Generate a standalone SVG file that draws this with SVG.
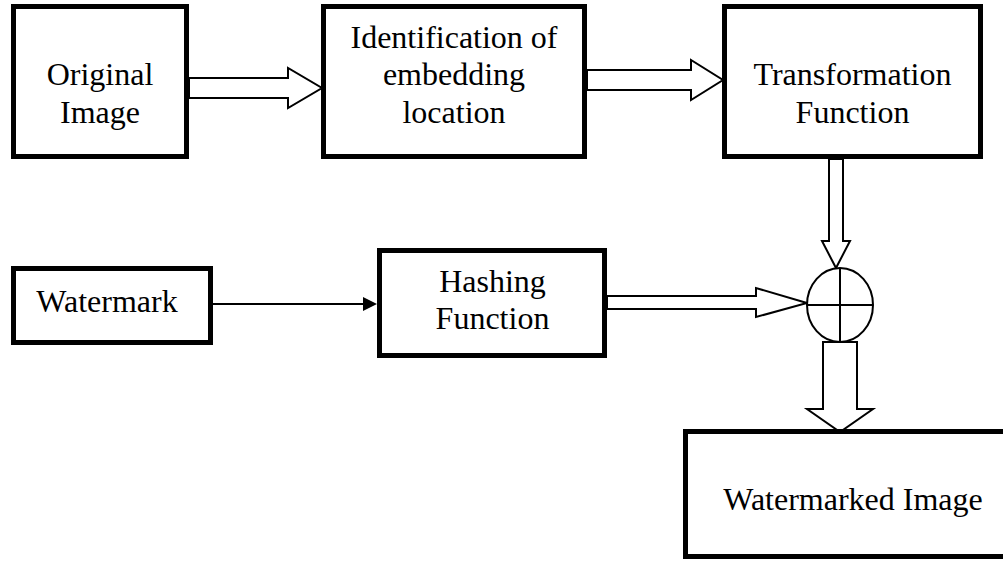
<svg xmlns="http://www.w3.org/2000/svg" width="1003" height="563" viewBox="0 0 1003 563">
<style>
.box{fill:#fff;stroke:#000;stroke-width:5}
.blk{fill:#fff;stroke:#000;stroke-width:2;stroke-linejoin:miter}
.lbl{font-family:"Liberation Serif","Times New Roman",serif;font-size:32px;fill:#000;text-anchor:middle}
</style>
<rect width="1003" height="563" fill="#fff"/>
<g id="connectors">
<polygon class="blk" points="189,78 288,78 288,68 322,88 288,108 288,98 189,98"/>
<polygon class="blk" points="587,70 691,70 691,60 723,80 691,100 691,90 587,90"/>
<polygon class="blk" points="829,159 829,241 822,241 836,268 850,241 843,241 843,159"/>
<polygon class="blk" points="607,296 756,296 756,288 807,303 756,317 756,309 607,309"/>
<polygon class="blk" points="823,342 823,409 807,409 840,432 873,409 857,409 857,342"/>
<line x1="213" y1="304" x2="365" y2="304" stroke="#000" stroke-width="2"/>
<polygon points="363,297 377,304 363,311" fill="#000"/>
</g>
<g id="combiner">
<ellipse cx="840" cy="305" rx="33" ry="37" fill="#fff" stroke="#000" stroke-width="2"/>
<line x1="807" y1="305" x2="873" y2="305" stroke="#000" stroke-width="2"/>
<line x1="840" y1="268" x2="840" y2="342" stroke="#000" stroke-width="2"/>
</g>
<g id="original-image">
<rect class="box" x="13.5" y="6.5" width="173" height="150"/>
<text class="lbl" x="100" y="85">Original</text>
<text class="lbl" x="100" y="123">Image</text>
</g>
<g id="identification">
<rect class="box" x="323.5" y="6.5" width="261" height="150"/>
<text class="lbl" x="454" y="48">Identification of</text>
<text class="lbl" x="454" y="85">embedding</text>
<text class="lbl" x="454" y="123">location</text>
</g>
<g id="transformation">
<rect class="box" x="724.5" y="6.5" width="256" height="150"/>
<text class="lbl" x="852.5" y="85">Transformation</text>
<text class="lbl" x="852.5" y="123">Function</text>
</g>
<g id="watermark">
<rect class="box" x="13.5" y="268.5" width="197" height="74"/>
<text class="lbl" x="107" y="312">Watermark</text>
</g>
<g id="hashing">
<rect class="box" x="379.5" y="250.5" width="225" height="105"/>
<text class="lbl" x="492.5" y="292">Hashing</text>
<text class="lbl" x="492.5" y="329">Function</text>
</g>
<g id="watermarked-image">
<rect class="box" x="685.5" y="431.5" width="330" height="125"/>
<text class="lbl" x="853" y="510">Watermarked Image</text>
</g>
</svg>
